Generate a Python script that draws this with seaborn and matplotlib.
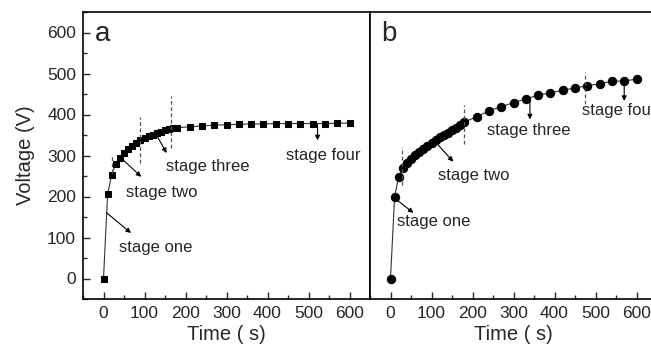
import matplotlib
matplotlib.use("Agg")
import matplotlib.pyplot as plt
from matplotlib.ticker import MultipleLocator
import seaborn as sns
import pandas as pd

# panel a: squares
time_a = [0, 10, 20, 30, 40, 50, 60, 70, 80, 90, 100, 110, 120, 130, 140, 150, 160, 170, 180,
          210, 240, 270, 300, 330, 360, 390, 420, 450, 480, 510, 540, 570, 600]
volt_a = [0, 205, 253, 280, 293, 305, 315, 323, 330, 337, 342, 347, 351, 355, 358, 361, 364, 366, 368,
          370, 372, 374, 375, 376, 377, 377, 378, 378, 378, 378, 378, 379, 379]

# panel b: circles
time_b = [0, 10, 20, 30, 40, 50, 60, 70, 80, 90, 100, 110, 120, 130, 140, 150, 160, 170, 180,
          210, 240, 270, 300, 330, 360, 390, 420, 450, 480, 510, 540, 570, 600]
volt_b = [0, 200, 248, 270, 282, 292, 301, 309, 317, 324, 331, 338, 344, 350, 356, 362, 368, 375, 382,
          394, 409, 419, 429, 438, 447, 453, 459, 465, 470, 475, 481, 482, 486]

# stage boundaries (x, ymin, ymax)
bounds_a = [(20, 257, 298), (90, 281, 393), (165, 318, 444)]
bounds_b = [(27, 228, 321), (180, 329, 422), (475, 426, 503)]

# stage labels: text, text pos, arrow start, arrow end
stages_a = [("stage one", (37, 75), (8, 160), (67, 111)),
            ("stage two", (55, 209), (46, 291), (92, 248)),
            ("stage three", (153, 272), (132, 345), (154, 306)),
            ("stage four", (444, 301), (522, 376), (522, 337))]
stages_b = [("stage one", (16, 139), (10, 196), (56, 160)),
            ("stage two", (117, 251), (106, 337), (153, 285)),
            ("stage three", (236, 360), (340, 437), (340, 388)),
            ("stage four", (466, 410), (570, 481), (570, 433))]

sns.set_style("ticks")
plt.rcParams['font.family'] = ['Liberation Sans', 'DejaVu Sans']

fig = plt.figure(figsize=(6.51, 3.51), dpi=100)
ax_a = fig.add_axes([83 / 651, 52 / 351, 287 / 651, 287 / 351])
ax_b = fig.add_axes([370 / 651, 52 / 351, 287 / 651, 287 / 351])

df_a = pd.DataFrame({"t": time_a, "v": volt_a})
df_b = pd.DataFrame({"t": time_b, "v": volt_b})

sns.lineplot(data=df_a, x="t", y="v", ax=ax_a, color="#333333", lw=0.8,
             marker="s", markersize=4.6, markerfacecolor="black", markeredgecolor="black")
sns.lineplot(data=df_b, x="t", y="v", ax=ax_b, color="#333333", lw=0.8,
             marker="o", markersize=6, markerfacecolor="black", markeredgecolor="black")

for ax, bounds, stages, tag in [(ax_a, bounds_a, stages_a, "a"), (ax_b, bounds_b, stages_b, "b")]:
    ax.set_xlim(-50, 650)
    ax.set_ylim(-50, 650)
    ax.xaxis.set_major_locator(MultipleLocator(100))
    ax.xaxis.set_minor_locator(MultipleLocator(50))
    ax.yaxis.set_major_locator(MultipleLocator(100))
    ax.yaxis.set_minor_locator(MultipleLocator(50))
    ax.tick_params(which="both", direction="in", top=False, right=False, labelsize=12.5, width=1)
    ax.tick_params(which="major", length=5, pad=5)
    ax.tick_params(which="minor", length=3)
    for sp in ax.spines.values():
        sp.set_linewidth(1.2)
        sp.set_color("black")
    ax.set_xlabel("Time ( s)", fontsize=14.5, labelpad=3)
    for x, y0, y1 in bounds:
        ax.vlines(x, y0, y1, colors="#555555", linestyles=(0, (3, 2)), lw=0.9)
    for txt, tpos, a0, a1 in stages:
        ax.annotate("", xy=a1, xytext=a0,
                    arrowprops=dict(arrowstyle="-|>", lw=0.8, color="black",
                                    mutation_scale=7, shrinkA=0, shrinkB=0))
        ax.text(tpos[0], tpos[1], txt, fontsize=12, ha="left", va="center")
    ax.text(-22, 597, tag, fontsize=20, ha="left", va="center")

ax_a.set_ylabel("Voltage (V)", fontsize=14.5, labelpad=9)
ax_b.set_ylabel("")
ax_b.tick_params(which="both", left=False, labelleft=False)

fig.savefig("out.png", dpi=100)
